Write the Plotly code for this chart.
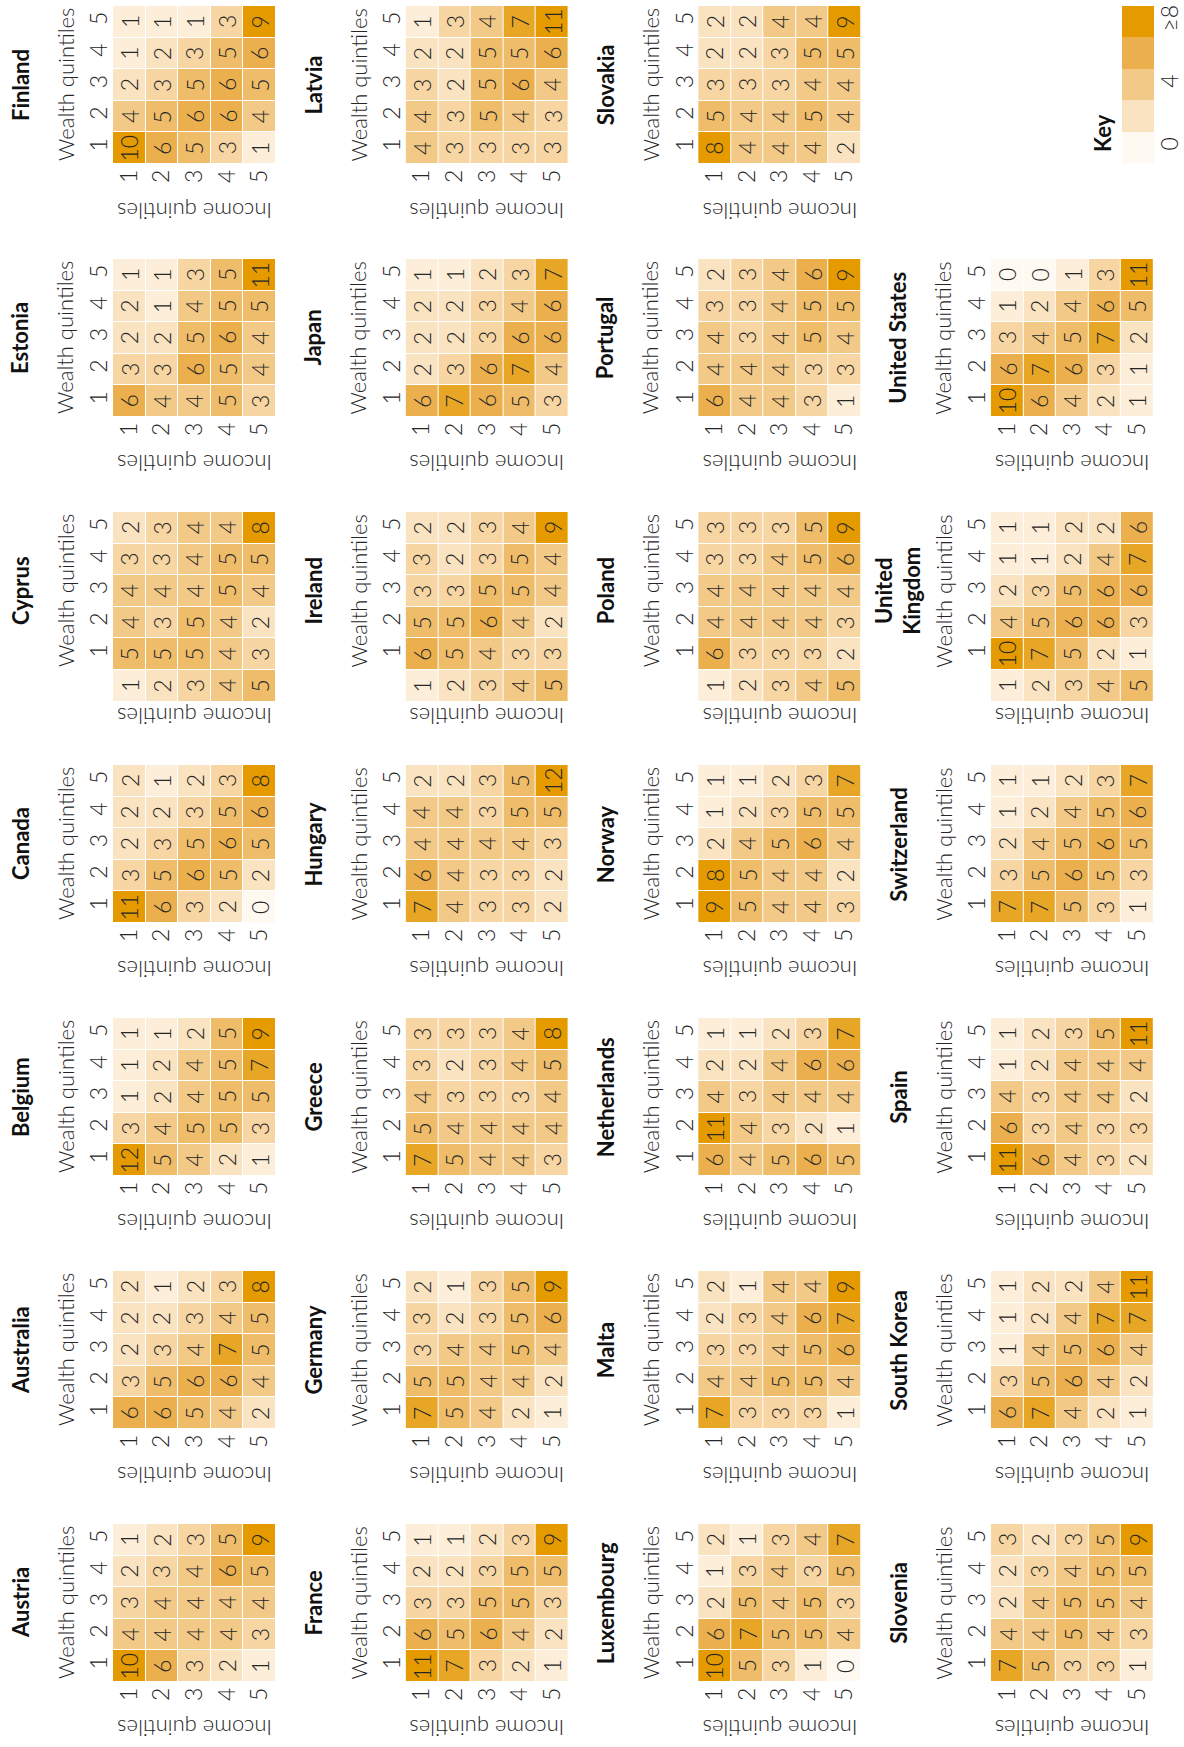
import plotly.graph_objects as go

# Share of households (%) in each income/wealth quintile cell.
# Each matrix: rows = wealth quintile 1..5, columns = income quintile 1..5.
income_quintiles = [1, 2, 3, 4, 5]
wealth_quintiles = [1, 2, 3, 4, 5]

austria = [[10, 6, 3, 2, 1], [4, 4, 4, 4, 3], [3, 4, 4, 4, 4], [2, 3, 4, 6, 5], [1, 2, 3, 5, 9]]
australia = [[6, 6, 5, 4, 2], [3, 5, 6, 6, 4], [2, 3, 4, 7, 5], [2, 2, 3, 4, 5], [2, 1, 2, 3, 8]]
belgium = [[12, 5, 4, 2, 1], [3, 4, 5, 5, 3], [1, 2, 4, 5, 5], [1, 2, 4, 5, 7], [1, 1, 2, 5, 9]]
canada = [[11, 6, 3, 2, 0], [3, 5, 6, 5, 2], [2, 3, 5, 6, 5], [2, 2, 3, 5, 6], [2, 1, 2, 3, 8]]
cyprus = [[5, 5, 5, 4, 3], [4, 3, 5, 4, 2], [4, 4, 4, 5, 4], [3, 3, 4, 5, 5], [2, 3, 4, 4, 8]]
estonia = [[6, 4, 4, 5, 3], [3, 3, 6, 5, 4], [2, 2, 5, 6, 4], [2, 1, 4, 5, 5], [1, 1, 3, 5, 11]]
finland = [[10, 6, 5, 3, 1], [4, 5, 6, 6, 4], [2, 3, 5, 6, 5], [1, 2, 3, 5, 6], [1, 1, 1, 3, 9]]
france = [[11, 7, 3, 2, 1], [6, 5, 6, 4, 2], [3, 3, 5, 5, 3], [2, 2, 3, 5, 5], [1, 1, 2, 3, 9]]
germany = [[7, 5, 4, 2, 1], [5, 5, 4, 4, 2], [3, 4, 4, 5, 4], [3, 2, 3, 5, 6], [2, 1, 3, 5, 9]]
greece = [[7, 5, 4, 4, 3], [5, 4, 4, 4, 4], [4, 3, 3, 3, 4], [3, 2, 3, 4, 5], [3, 3, 3, 4, 8]]
hungary = [[7, 4, 3, 3, 2], [6, 4, 3, 3, 2], [4, 4, 4, 4, 3], [4, 4, 3, 5, 5], [2, 2, 3, 5, 12]]
ireland = [[6, 5, 4, 3, 3], [5, 5, 6, 4, 2], [3, 3, 5, 5, 4], [3, 2, 3, 5, 4], [2, 2, 3, 4, 9]]
japan = [[6, 7, 6, 5, 3], [2, 3, 6, 7, 4], [2, 2, 3, 6, 6], [2, 2, 3, 4, 6], [1, 1, 2, 3, 7]]
latvia = [[4, 3, 3, 3, 3], [4, 3, 5, 4, 3], [3, 2, 5, 6, 4], [2, 2, 5, 5, 6], [1, 3, 4, 7, 11]]
luxembourg = [[10, 5, 3, 1, 0], [6, 7, 5, 5, 4], [2, 5, 4, 5, 3], [1, 3, 4, 3, 5], [2, 1, 3, 4, 7]]
malta = [[7, 3, 3, 3, 1], [4, 4, 5, 5, 4], [3, 3, 4, 5, 6], [2, 3, 4, 6, 7], [2, 1, 4, 4, 9]]
netherlands = [[6, 4, 5, 6, 5], [11, 4, 3, 2, 1], [4, 3, 4, 4, 4], [2, 2, 4, 6, 6], [1, 1, 2, 3, 7]]
norway = [[9, 5, 4, 4, 3], [8, 5, 4, 4, 2], [2, 4, 5, 6, 4], [1, 2, 3, 5, 5], [1, 1, 2, 3, 7]]
poland = [[6, 3, 3, 3, 2], [4, 4, 4, 4, 3], [4, 4, 4, 4, 4], [3, 3, 4, 5, 6], [3, 3, 3, 5, 9]]
portugal = [[6, 4, 4, 3, 1], [4, 4, 4, 3, 3], [4, 3, 4, 5, 4], [3, 3, 4, 5, 5], [2, 3, 4, 6, 9]]
slovakia = [[8, 4, 4, 4, 2], [5, 4, 4, 5, 4], [3, 3, 3, 4, 4], [2, 2, 3, 5, 5], [2, 2, 4, 4, 9]]
slovenia = [[7, 5, 3, 3, 1], [4, 4, 5, 4, 3], [2, 4, 5, 5, 4], [2, 3, 4, 5, 5], [3, 2, 3, 5, 9]]
south_korea = [[6, 7, 4, 2, 1], [3, 5, 6, 4, 2], [1, 4, 5, 6, 4], [1, 2, 4, 7, 7], [1, 2, 2, 4, 11]]
spain = [[11, 6, 4, 3, 2], [6, 3, 4, 3, 3], [4, 3, 4, 4, 2], [1, 2, 4, 4, 4], [1, 2, 3, 5, 11]]
switzerland = [[7, 7, 5, 3, 1], [3, 5, 6, 5, 3], [2, 4, 5, 6, 5], [1, 2, 4, 5, 6], [1, 1, 2, 3, 7]]
united_kingdom = [[10, 7, 5, 2, 1], [4, 5, 6, 6, 3], [2, 3, 5, 6, 6], [1, 1, 2, 4, 7], [1, 1, 2, 2, 6]]
united_states = [[10, 6, 4, 2, 1], [6, 7, 6, 3, 1], [3, 4, 5, 7, 2], [1, 2, 4, 6, 5], [0, 0, 1, 3, 11]]

countries = [
    "Austria", "Australia", "Belgium", "Canada", "Cyprus", "Estonia", "Finland",
    "France", "Germany", "Greece", "Hungary", "Ireland", "Japan", "Latvia",
    "Luxembourg", "Malta", "Netherlands", "Norway", "Poland", "Portugal", "Slovakia",
    "Slovenia", "South Korea", "Spain", "Switzerland", "United Kingdom", "United States",
]
matrices = [
    austria, australia, belgium, canada, cyprus, estonia, finland,
    france, germany, greece, hungary, ireland, japan, latvia,
    luxembourg, malta, netherlands, norway, poland, portugal, slovakia,
    slovenia, south_korea, spain, switzerland, united_kingdom, united_states,
]
# panels whose income labels sit in a shaded row of their own
shaded_label_rows = ["Cyprus", "Ireland", "Poland", "United Kingdom"]

key_levels = [0, 2, 4, 6, 8]
key_tickvals = [0, 4, 8]
key_ticktext = ["0", "4", "≥8"]

# ---- styling / geometry (pixels on a 1184 x 1747 page, rotated layout) ----
W, H = 1184, 1747
X0, COL_STEP, HM_W = 113, 292.6, 163
Y0, ROW_STEP, HM_H = 6, 253, 158
CELL_H = HM_H / 5
FONT = "Lato"
TEXT = "#262626"
NUM_FONT = dict(family=FONT, size=23, color=TEXT, weight=300)
TITLE_FONT = dict(family=FONT, size=22, color=TEXT, weight=300)
NAME_FONT = dict(family=FONT, size=22, color="#111111", weight=700)
COLORSCALE = [
    [0.0, "#FEF9F1"],
    [0.25, "#FAE3C1"],
    [0.5, "#F3C987"],
    [0.75, "#EBB04D"],
    [1.0, "#E59B00"],
]


def px(x):
    return x / W


def py(y):
    return 1 - y / H


fig = go.Figure()
layout = dict(
    width=W, height=H,
    margin=dict(l=0, r=0, t=0, b=0),
    paper_bgcolor="white", plot_bgcolor="white",
    font=dict(family=FONT, color=TEXT),
    showlegend=False,
)
annotations = []


def axis_names(n):
    return ("xaxis" if n == 1 else f"xaxis{n}", "yaxis" if n == 1 else f"yaxis{n}",
            "x" if n == 1 else f"x{n}", "y" if n == 1 else f"y{n}")


for k, (name, z) in enumerate(zip(countries, matrices)):
    n = k + 1
    xa, ya, xr, yr = axis_names(n)
    col = k // 7
    row = 6 - (k % 7)
    left = X0 + COL_STEP * col
    top = Y0 + ROW_STEP * row
    bottom5 = top + HM_H
    shaded = name in shaded_label_rows

    zz = [list(r) for r in z]
    yy = list(wealth_quintiles)
    bottom = bottom5
    if shaded:
        zz = [list(income_quintiles)] + zz
        yy = [0] + yy
        bottom = bottom5 + CELL_H

    fig.add_trace(go.Heatmap(
        z=zz, x=income_quintiles, y=yy,
        colorscale=COLORSCALE, zmin=0, zmax=8, showscale=False,
        xgap=1, ygap=1, hoverinfo="skip",
        xaxis=xr, yaxis=yr,
    ))

    layout[xa] = dict(
        domain=[px(left), px(left + HM_W)], anchor=yr,
        range=[0.5, 5.5], tickvals=income_quintiles,
        ticktext=[str(v) for v in income_quintiles],
        tickangle=-90, showticklabels=not shaded,
        showgrid=False, zeroline=False, showline=False, ticks="",
        tickfont=NUM_FONT, fixedrange=True,
    )
    layout[ya] = dict(
        domain=[py(bottom), py(top)], anchor=xr,
        range=[yy[0] - 0.5, 5.5], tickvals=wealth_quintiles,
        ticktext=[str(v) for v in wealth_quintiles],
        tickangle=-90, showgrid=False, zeroline=False, showline=False, ticks="",
        tickfont=NUM_FONT, fixedrange=True,
    )

    # cell values, rotated with the page
    for yi, rowvals in zip(yy, zz):
        for xi, v in zip(income_quintiles, rowvals):
            annotations.append(dict(
                x=xi, y=yi, xref=xr, yref=yr, text=str(v), showarrow=False,
                textangle=-90, xanchor="center", yanchor="middle",
                font=NUM_FONT,
            ))

    mid_y = py(top + HM_H / 2)
    # country name
    annotations.append(dict(
        x=px(left - 93), y=mid_y, xref="paper", yref="paper",
        text=name.replace("United Kingdom", "United<br>Kingdom"),
        showarrow=False, textangle=-90, xanchor="center", yanchor="middle",
        font=NAME_FONT,
    ))
    # axis titles
    annotations.append(dict(
        x=px(left - 48), y=mid_y, xref="paper", yref="paper",
        text="Wealth quintiles", showarrow=False, textangle=-90,
        xanchor="center", yanchor="middle", font=TITLE_FONT,
    ))
    annotations.append(dict(
        x=px(left + HM_W / 2), y=py(bottom5 + 47), xref="paper", yref="paper",
        text="Income quintiles", showarrow=False, textangle=180,
        xanchor="center", yanchor="middle", font=TITLE_FONT,
    ))

# ---- colour key ----
n = len(countries) + 1
xa, ya, xr, yr = axis_names(n)
fig.add_trace(go.Heatmap(
    z=[[v] for v in key_levels], x=[0], y=key_levels,
    colorscale=COLORSCALE, zmin=0, zmax=8, showscale=False,
    ygap=0, hoverinfo="skip", xaxis=xr, yaxis=yr,
))
layout[xa] = dict(domain=[px(1122), px(1154)], anchor=yr, range=[-0.5, 0.5],
                  visible=False, fixedrange=True)
layout[ya] = dict(
    domain=[py(163), py(6)], anchor=xr, side="right", range=[-1, 9],
    tickvals=key_tickvals, ticktext=key_ticktext, tickangle=-90,
    showgrid=False, zeroline=False, showline=False, ticks="",
    tickfont=NUM_FONT, fixedrange=True,
)
annotations.append(dict(
    x=px(1103), y=py(133), xref="paper", yref="paper", text="Key",
    showarrow=False, textangle=-90, xanchor="center", yanchor="middle",
    font=NAME_FONT,
))

layout["annotations"] = annotations
fig.update_layout(**layout)
fig.write_html("out.html")
